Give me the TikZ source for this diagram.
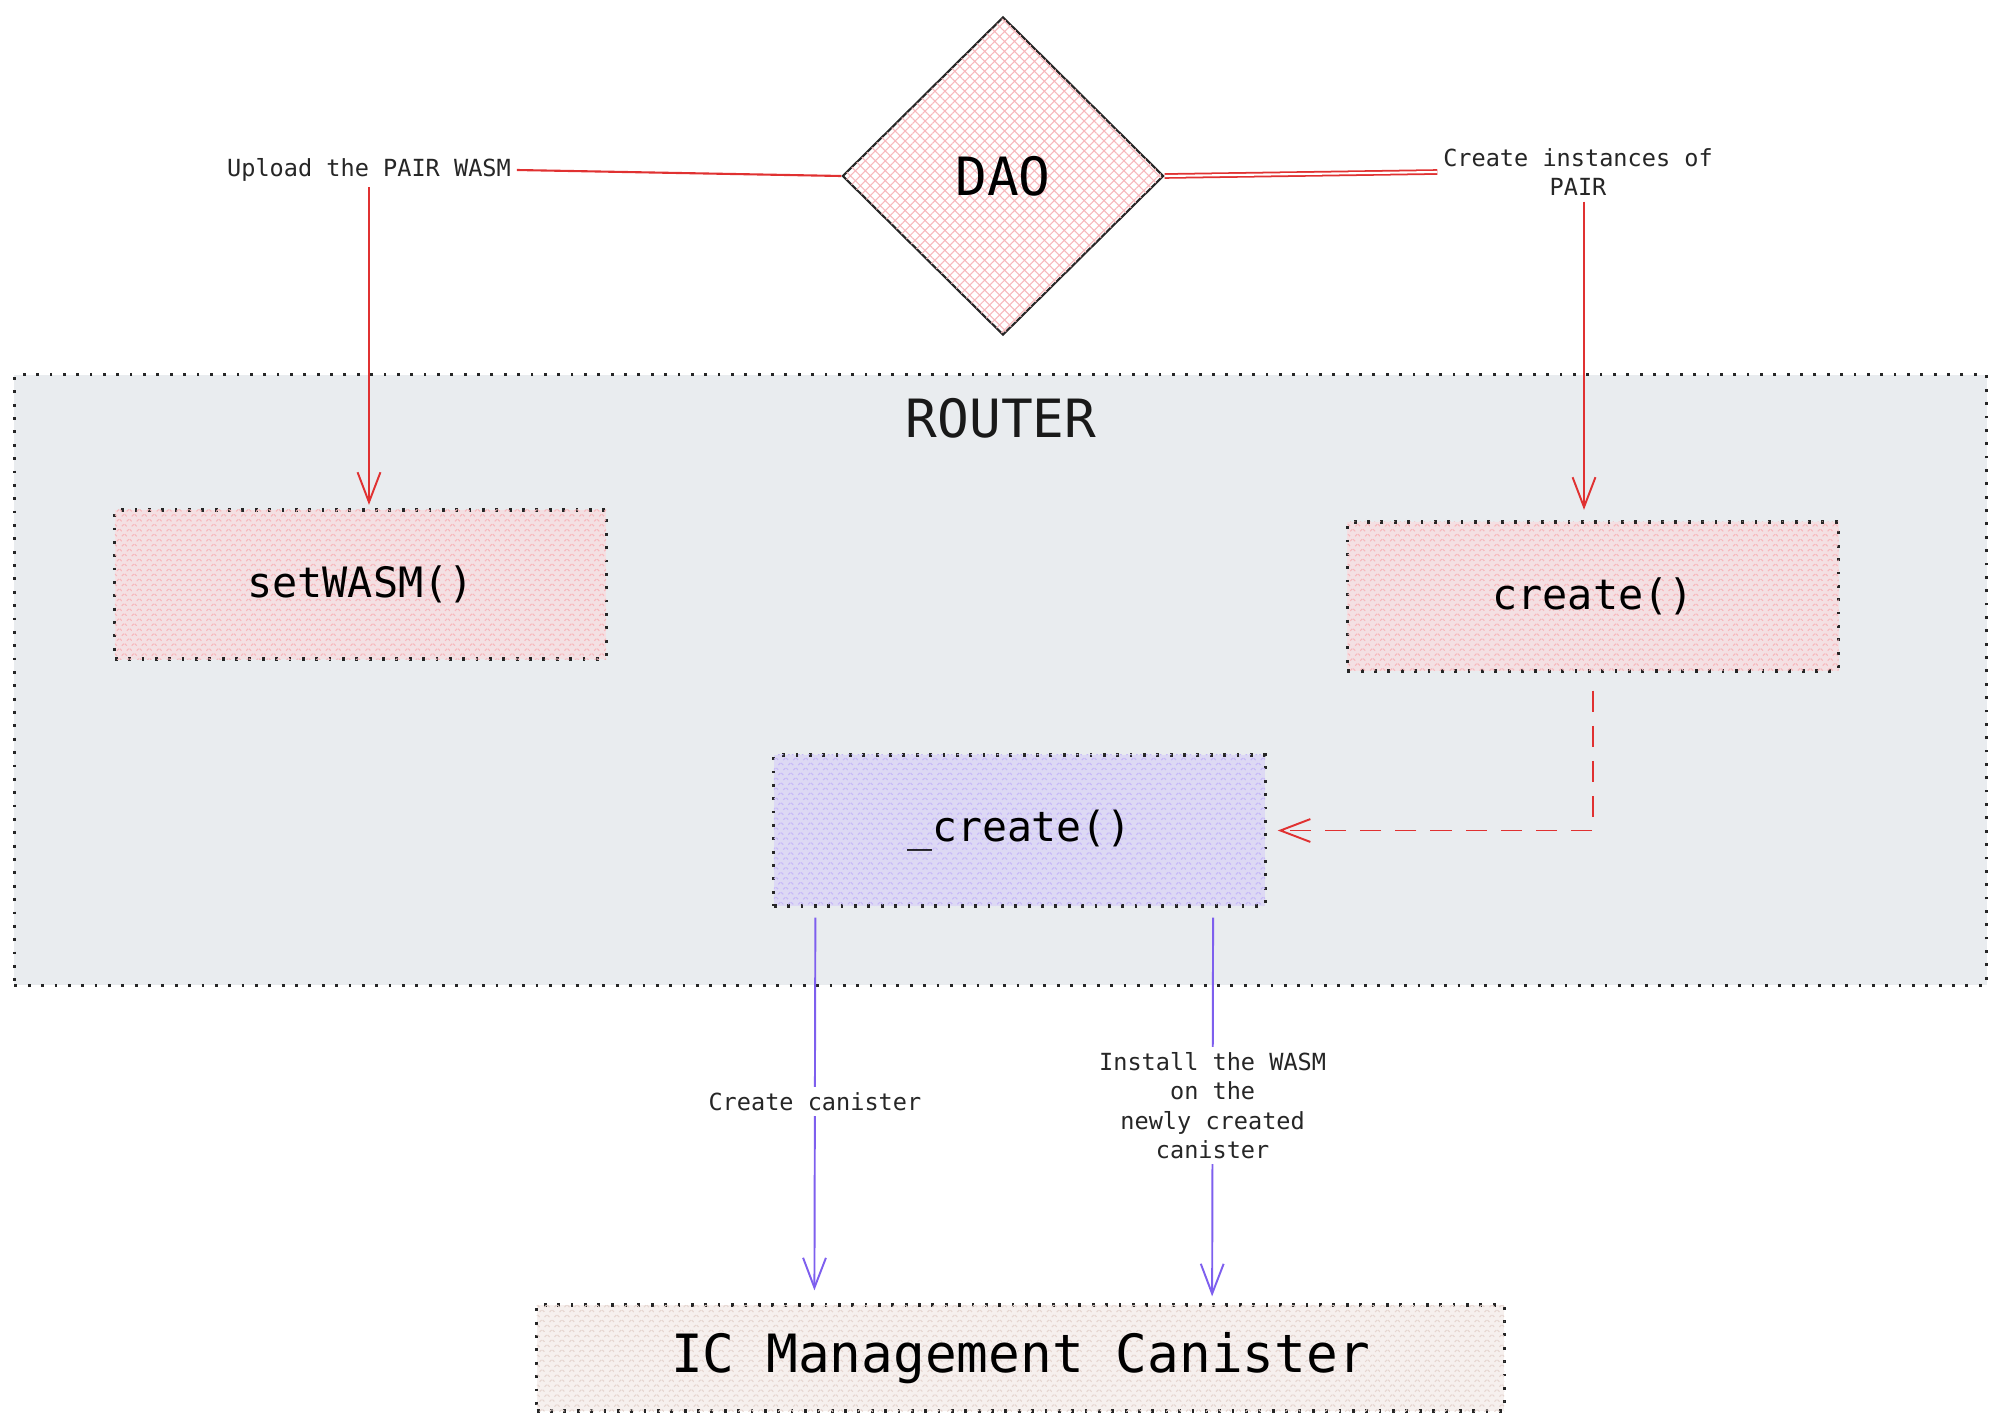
\documentclass[tikz,border=0pt]{standalone}
\usepackage{fontspec}
\setmonofont{DejaVu Sans Mono}
\usepackage{xcolor}
\usetikzlibrary{shapes,arrows.meta,positioning,calc,patterns.meta}
\definecolor{lnred}{HTML}{E03131}
\definecolor{lnpurple}{HTML}{7E5FEE}
\definecolor{routerbg}{HTML}{E9ECEF}
\definecolor{pinkfill}{HTML}{F4E0E3}
\definecolor{pinkline}{HTML}{F7B8BC}
\definecolor{lilacfill}{HTML}{DDD9F4}
\definecolor{lilacline}{HTML}{C6B8F8}
\definecolor{beigefill}{HTML}{F6F0EE}
\definecolor{beigeline}{HTML}{E6D6D0}

\begin{document}
\begin{tikzpicture}[
    x=0.01cm, y=-0.01cm,
    dotbox/.style={rectangle, draw=black!85, line width=0.9pt, dash pattern=on 0.8pt off 3pt, align=center, inner sep=0pt, font=\ttfamily},
    b1/.style={dotbox, fill=pinkfill, postaction={pattern={Hatch[angle=45,distance=2pt,line width=0.3pt]}, pattern color=pinkline}, minimum width=4.91cm, minimum height=1.49cm},
    b2/.style={dotbox, fill=lilacfill, postaction={pattern={Hatch[angle=45,distance=2pt,line width=0.3pt]}, pattern color=lilacline}, minimum width=4.91cm, minimum height=1.51cm},
    b3/.style={dotbox, fill=beigefill, postaction={pattern={Hatch[angle=45,distance=2pt,line width=0.3pt]}, pattern color=beigeline}, minimum width=9.67cm, minimum height=1.06cm},
    lbl/.style={font=\ttfamily\fontsize{6.7pt}{8.4pt}\selectfont, align=center, fill=white, inner sep=1.5pt, text=black!85},
    rarr/.style={-{Straight Barb[length=8.5pt,width=6.5pt]}, line width=0.55pt, draw=lnred},
    parr/.style={-{Straight Barb[length=8.5pt,width=6.5pt]}, line width=0.55pt, draw=lnpurple}
]
    \useasboundingbox (0,0) rectangle (2000,1424);

    % router area
    \node [dotbox, fill=routerbg, minimum width=19.71cm, minimum height=6.10cm] (router) at (1000.5,680) {};
    \node [font=\ttfamily\fontsize{15pt}{18pt}\selectfont, text=black!90] (rtitle) at (1001,418) {ROUTER};

    % DAO
    \node [diamond, draw=black!85, line width=0.6pt, fill=white, postaction={pattern={Hatch[angle=45,distance=2pt,line width=0.3pt]}, pattern color=pinkline}, minimum width=3.21cm, minimum height=3.18cm, inner sep=0pt, font=\ttfamily\fontsize{15pt}{18pt}\selectfont] (dao) at (1003,176) {DAO};

    \node [lbl] (upl) at (369,170) {Upload the PAIR WASM};
    \node [lbl] (inst) at (1578,172) {Create instances of\\PAIR};

    % functions
    \node [b1, font=\ttfamily\fontsize{11.9pt}{14pt}\selectfont] (setw) at (360.5,584.5) {setWASM()};
    \node [b1, font=\ttfamily\fontsize{11.9pt}{14pt}\selectfont] (crt) at (1593,596.5) {create()};
    \node [b2, font=\ttfamily\fontsize{11.8pt}{14pt}\selectfont] (pcrt) at (1019.5,830.5) {\_create()};
    \node [b3, font=\ttfamily\fontsize{15pt}{18pt}\selectfont] (ic) at (1020.5,1358) {IC Management Canister};

    % connectors
    \draw [draw=lnred, line width=0.6pt] (dao.west) -- (upl.east);
    \draw [draw=lnred, line width=0.5pt, double=white, double distance=0.6pt] (dao.east) -- (inst.west);
    \draw [rarr, shorten >=1pt] (upl.south) -- (upl.south |- setw.north);
    \draw [rarr, shorten >=3pt] ([xshift=0.06cm]inst.south) -- ([xshift=0.06cm]inst.south |- crt.north);
    \draw [rarr, dashed, dash pattern=on 6pt off 4pt, shorten <=0.18cm, shorten >=0.11cm] (crt.south) |- (pcrt.east);

    \draw [parr, shorten <=0.1cm, shorten >=0.13cm] ([xshift=-2.04cm]pcrt.south) -- node [lbl, pos=0.49] (cc) {Create canister} ([xshift=-2.06cm]ic.north);
    \draw [parr, shorten <=0.1cm, shorten >=0.07cm] ([xshift=1.935cm]pcrt.south) -- node [lbl, pos=0.5] (iw) {Install the WASM\\on the\\newly created\\canister} ([xshift=1.915cm]ic.north);
\end{tikzpicture}
\end{document}
